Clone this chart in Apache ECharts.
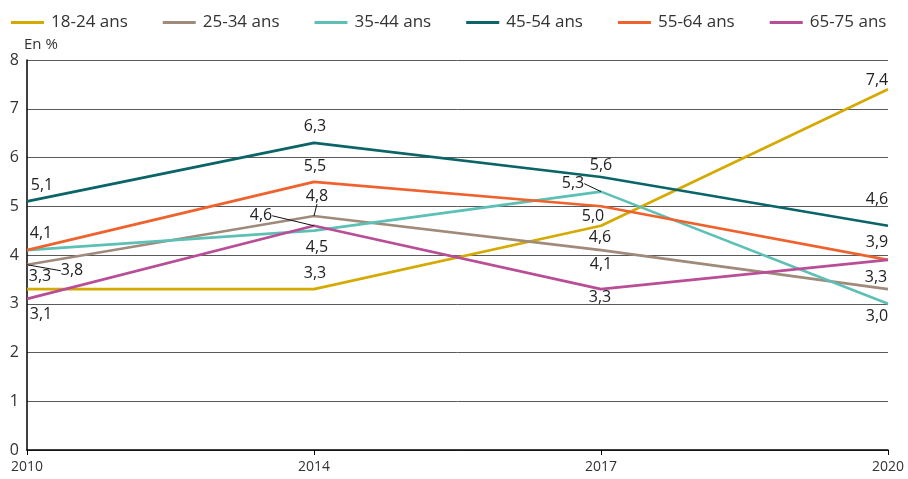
<!DOCTYPE html>
<html>
<head>
<meta charset="utf-8">
<script src="https://cdn.jsdelivr.net/npm/echarts@6/dist/echarts.min.js"></script>
<style>html,body{margin:0;padding:0;background:#fff}#c{width:908px;height:479px}</style>
</head>
<body>
<div id="c"></div>
<script>
const years = ['2010', '2014', '2017', '2020'];
const seriesNames = ['18-24 ans', '25-34 ans', '35-44 ans', '45-54 ans', '55-64 ans', '65-75 ans'];
const v1824 = [3.3, 3.3, 4.6, 7.4];
const v2534 = [3.8, 4.8, 4.1, 3.3];
const v3544 = [4.1, 4.5, 5.3, 3.0];
const v4554 = [5.1, 6.3, 5.6, 4.6];
const v5564 = [4.1, 5.5, 5.0, 3.9];
const v6575 = [3.1, 4.6, 3.3, 3.9];
const yTicks = [0, 1, 2, 3, 4, 5, 6, 7, 8];

const allValues = [v1824, v2534, v3544, v4554, v5564, v6575];
const colors = ['#D4AA00', '#A08A7C', '#5CC0B5', '#0B6466', '#F0622D', '#B94D96'];

// label placement (offset of label centre from the point), null = no label; third flag = leader line
const labelPlace = [
  [[13, -13], [1, -16], [-1, 12], [-11, -9]],
  [[45, 6, true], [3, -20, true], [0, 14], [-12, -12]],
  [null, [3, 17], [-28, -8, true], [-11, 13]],
  [[15, -16], [1, -16], [0, -12], [-11, -26]],
  [[14, -17], [1, -15], [-8, 10], [-11, -17]],
  [[14, 16], [-53, -10, true], [-1, 8], null]
];

const fmt = v => v.toFixed(1).replace('.', ',');

const series = seriesNames.map((name, si) => ({
  name: name,
  type: 'line',
  symbol: 'circle',
  symbolSize: 0.1,
  showSymbol: true,
  color: colors[si],
  lineStyle: { width: 2.6, color: colors[si] },
  itemStyle: { color: colors[si] },
  emphasis: { disabled: true },
  label: {
    show: true,
    position: 'inside',
    formatter: p => fmt(p.value),
    color: '#222',
    fontSize: 16,
    fontFamily: 'Open Sans'
  },
  labelLine: { show: false, lineStyle: { color: '#111', width: 1 } },
  labelLayout: function (params) {
    const o = labelPlace[si][params.dataIndex];
    if (!o) return {};
    return { dx: o[0], dy: o[1] };
  },
  data: allValues[si].map((v, di) => {
    const o = labelPlace[si][di];
    const item = { value: v };
    if (!o) item.label = { show: false };
    if (o && o[2]) item.labelLine = { show: true, lineStyle: { color: '#111', width: 1 } };
    return item;
  }),
  z: si === 0 ? 2 : 3
}));

const chart = echarts.init(document.getElementById('c'));
chart.setOption({
  animation: false,
  textStyle: { fontFamily: 'Open Sans' },
  legend: {
    top: 9,
    left: 6,
    icon: 'rect',
    itemWidth: 33,
    itemHeight: 3,
    itemGap: 35,
    textStyle: { fontSize: 17, color: '#333', fontFamily: 'Open Sans', padding: [0, 0, 0, 2] },
    data: seriesNames
  },
  grid: { left: 27, right: 20, top: 60, bottom: 29, containLabel: false },
  xAxis: {
    type: 'category',
    data: years,
    boundaryGap: false,
    axisLine: { lineStyle: { color: '#000', width: 1.5 } },
    axisTick: { show: true, length: 5, lineStyle: { color: '#000', width: 1 } },
    axisLabel: { fontSize: 14, color: '#333', margin: 10 },
    splitLine: { show: false }
  },
  yAxis: {
    type: 'value',
    min: yTicks[0],
    max: yTicks[yTicks.length - 1],
    interval: 1,
    name: 'En %',
    nameLocation: 'end',
    nameGap: 5,
    nameTextStyle: { fontSize: 15, color: '#333', align: 'left', padding: [0, 0, 0, -3] },
    axisLine: { show: true, lineStyle: { color: '#000', width: 1.5 } },
    axisTick: { show: false },
    axisLabel: { fontSize: 16, color: '#333', margin: 8, formatter: v => String(v) },
    splitLine: { lineStyle: { color: '#5a5a5a', width: 1 } }
  },
  series: series
});
</script>
</body>
</html>
